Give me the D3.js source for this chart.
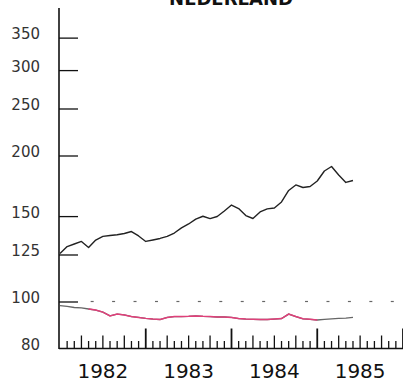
<!DOCTYPE html>
<html><head><meta charset="utf-8">
<script src="https://cdn.jsdelivr.net/npm/d3@7/dist/d3.min.js"></script>
<style>html,body{margin:0;padding:0;background:#fff;}svg{display:block;}</style>
</head><body>
<script>
const title = "NEDERLAND";
const yTicks = [80, 100, 125, 150, 200, 250, 300, 350];
const yearLabels = [1982, 1983, 1984, 1985];
// monthly series starting Jan 1982
const upperSeries = [125.6,129.8,131.4,133.0,129.2,133.9,136.2,136.8,137.3,138.1,139.4,136.5,
  133.0,133.9,134.9,136.2,138.4,141.8,144.5,147.9,149.9,148.2,149.7,153.7,
  158.1,155.5,150.4,148.3,153.0,155.2,155.9,160.4,169.4,173.9,171.8,172.6,
  177.2,185.8,189.8,182.3,176.0,177.6];
const greySeries = [98.1,97.7,97.2,97.0,96.5,96.0,95.1,93.4,94.2,93.8,93.1,92.7,
  92.3,92.0,91.8,92.7,93.1,93.1,93.2,93.4,93.2,93.1,92.9,92.9,
  92.7,92.2,92.0,91.9,91.8,91.8,92.0,92.2,94.2,93.1,92.1,91.9,
  91.6,91.9,92.1,92.3,92.4,92.7];
const pinkStart = 4, pinkEnd = 36;
const pinkSeries = greySeries.slice(pinkStart, pinkEnd + 1);
const refLevel = 100;

const W = 403, H = 383;
const svg = d3.select("body").append("svg").attr("width", W).attr("height", H);

const x = d3.scaleLinear().domain([0, 48]).range([60, 403]); // months since Jan 1982
const y = d3.scaleLog().domain([80, 400]).range([348.5, 9.5]);

// title
svg.append("text").attr("x", 231).attr("y", 5).attr("text-anchor", "middle")
  .attr("font-family", "DejaVu Sans").attr("font-weight", "bold").attr("font-size", 18)
  .attr("fill", "#111").text(title);

// reference dotted level at 100 (mid-quarter marks)
const quarterMids = d3.range(0, 16).map(q => q * 3 + 1.5);
svg.append("g").selectAll("line").data(quarterMids.slice(1)).join("line")
  .attr("x1", d => x(d) - 1.5).attr("x2", d => x(d) + 1.5)
  .attr("y1", y(refLevel)).attr("y2", y(refLevel))
  .attr("stroke", "#666").attr("stroke-width", 1.2);

// y axis
const yAxis = d3.axisRight(y).tickValues(yTicks.slice(1)).tickSize(19).tickFormat("");
const gy = svg.append("g").attr("transform", "translate(59,0)").call(yAxis);
gy.select(".domain").remove();
gy.selectAll(".tick line").attr("stroke", "#111").attr("stroke-width", 1.3);
svg.append("line").attr("x1", 59).attr("x2", 59).attr("y1", 8).attr("y2", 349)
  .attr("stroke", "#111").attr("stroke-width", 1.6);
svg.append("g").selectAll("text").data(yTicks).join("text")
  .attr("x", 40).attr("y", d => y(d) + 1.5).attr("text-anchor", "end")
  .attr("font-family", "DejaVu Sans").attr("font-size", 15).attr("fill", "#333")
  .text(d => d);

// x axis
const months = d3.range(0, 49);
svg.append("line").attr("x1", 59).attr("x2", 403).attr("y1", 348.5).attr("y2", 348.5)
  .attr("stroke", "#111").attr("stroke-width", 1.6);
svg.append("g").selectAll("line").data(months.slice(1)).join("line")
  .attr("x1", d => x(d)).attr("x2", d => x(d))
  .attr("y1", 348.5)
  .attr("y2", d => 348.5 - (d % 12 === 0 ? 20 : d % 3 === 0 ? 13 : 7.5))
  .attr("stroke", "#111").attr("stroke-width", d => d % 12 === 0 ? 1.8 : 1.3);
svg.append("g").selectAll("text").data(yearLabels).join("text")
  .attr("x", (d, i) => x(i * 12 + 6)).attr("y", 377.5).attr("text-anchor", "middle")
  .attr("font-family", "DejaVu Sans").attr("font-size", 20).attr("fill", "#111")
  .text(d => d);

// lines
const line = d3.line().x(d => x(d[0])).y(d => y(d[1]));
svg.append("path").datum(upperSeries.map((v, i) => [i, v]))
  .attr("d", line).attr("fill", "none").attr("stroke", "#222").attr("stroke-width", 1.4)
  .attr("stroke-linejoin", "round");
svg.append("path").datum(greySeries.map((v, i) => [i, v]))
  .attr("d", line).attr("fill", "none").attr("stroke", "#666").attr("stroke-width", 1.3);
svg.append("path").datum(pinkSeries.map((v, i) => [i + pinkStart, v]))
  .attr("d", line).attr("fill", "none").attr("stroke", "#e0407a").attr("stroke-width", 1.5);
</script>
</body></html>
